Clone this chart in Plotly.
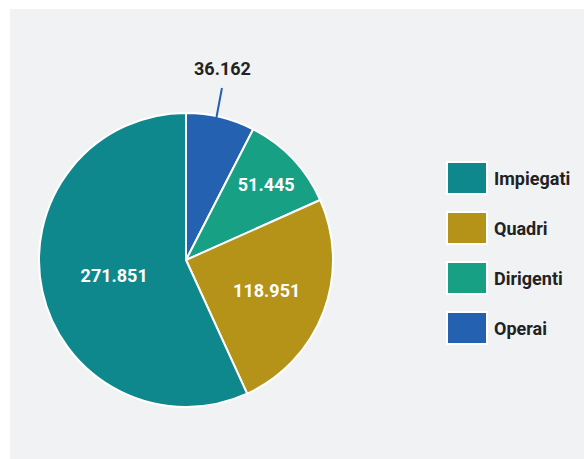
import math
import plotly.graph_objects as go

# Dipendenti per qualifica
categories = ["Operai", "Dirigenti", "Quadri", "Impiegati"]
values = [36162, 51445, 118951, 271851]
colors = ["#2461b0", "#18a085", "#b59318", "#0e888c"]
legend_order = ["Impiegati", "Quadri", "Dirigenti", "Operai"]

W, H = 584, 459
BG = "#f1f2f4"
FONT = "Roboto"

# pie geometry (pixels)
cx, cy, r = 186, 260, 147
dom_x = [(cx - r) / W, (cx + r) / W]
dom_y = [(H - cy - r) / H, (H - cy + r) / H]

positions = ["none" if c == "Operai" else "inside" for c in categories]

fig = go.Figure(go.Pie(
    labels=categories,
    values=values,
    sort=False,
    direction="clockwise",
    rotation=0,
    marker=dict(colors=colors, line=dict(color="white", width=2)),
    textposition=positions,
    texttemplate="%{value:,}",
    insidetextfont=dict(family=FONT, size=18, color="white", weight="bold"),
    insidetextorientation="horizontal",
    domain=dict(x=dom_x, y=dom_y),
    showlegend=False,
    hoverinfo="label+value",
))

# small slice labelled outside with a leader line
total = sum(values)
start = 0.0
for cat, val in zip(categories, values):
    frac = val / total
    if cat == "Operai":
        mid = (start + frac / 2) * 2 * math.pi
        ex = cx + r * 0.99 * math.sin(mid) - 4
        ey = cy - r * 0.99 * math.cos(mid)
        fig.add_annotation(
            x=ex / W, y=1 - ey / H, xref="paper", yref="paper",
            ax=6, ay=-32, axref="pixel", ayref="pixel",
            showarrow=True, arrowhead=0, arrowwidth=2, arrowcolor=colors[0],
            text="", standoff=0,
        )
        fig.add_annotation(
            x=(ex + 6) / W, y=1 - (ey - 38) / H, xref="paper", yref="paper",
            text=f"{val:,}".replace(",", "."), showarrow=False,
            yanchor="bottom", xanchor="center",
            font=dict(family=FONT, size=18, color="#222222", weight="bold"),
        )
    start += frac

# legend with large swatches
shapes = [dict(type="rect", xref="paper", yref="paper", x0=10 / W, x1=1,
               y0=0, y1=1 - 9 / H, fillcolor=BG, line=dict(width=0), layer="below")]
for i, name in enumerate(legend_order):
    col = colors[categories.index(name)]
    yc = 178 + 50 * i
    shapes.append(dict(type="rect", xref="paper", yref="paper",
                       x0=447 / W, x1=487 / W, y0=1 - (yc + 16) / H, y1=1 - (yc - 16) / H,
                       fillcolor=col, line=dict(color="white", width=2)))
    fig.add_annotation(x=492 / W, y=1 - yc / H, xref="paper", yref="paper",
                       text=name, showarrow=False, xanchor="left", yanchor="middle",
                       font=dict(family=FONT, size=18, color="#222222", weight="bold"))

fig.update_layout(
    width=W, height=H,
    margin=dict(l=0, r=0, t=0, b=0),
    paper_bgcolor="white",
    plot_bgcolor="white",
    separators=",.",
    shapes=shapes,
)

fig.write_html("out.html")
